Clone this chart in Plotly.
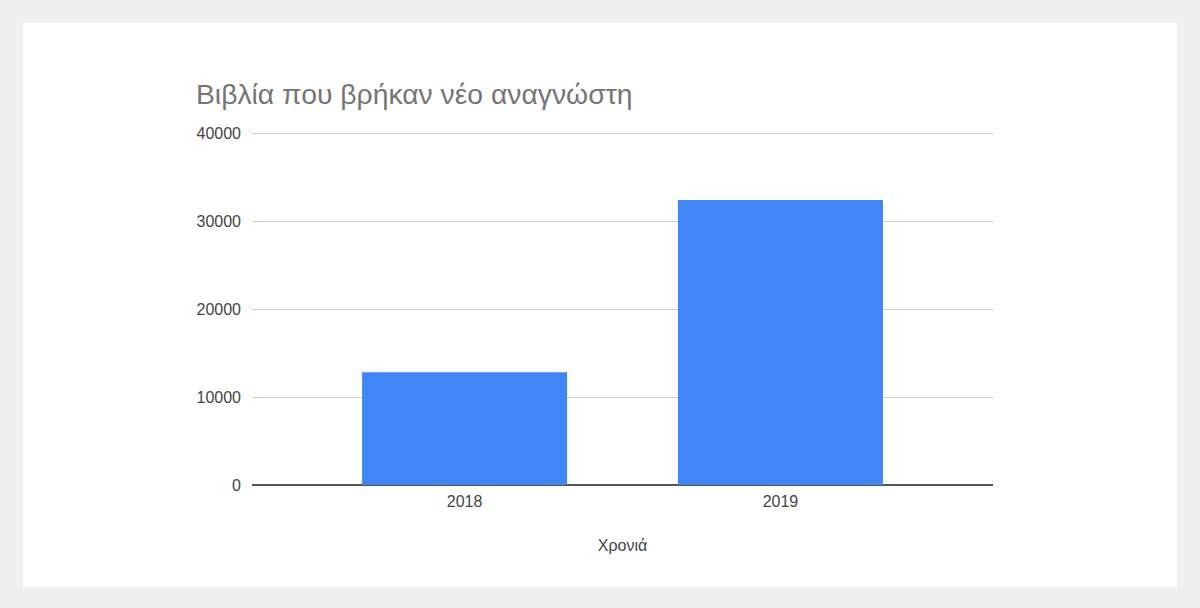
import plotly.graph_objects as go

# Data
years = ["2018", "2019"]
books = [12800, 32400]

title_text = "Βιβλία που βρήκαν νέο αναγνώστη"
x_title = "Χρονιά"
y_ticks = [0, 10000, 20000, 30000, 40000]

# plot area in pixels (1200x608 page); a few spare px on top so the 40000 grid line shows
L, R, T, B = 252, 207, 130, 123
W, H = 1200 - L - R, 608 - T - B

fig = go.Figure()
fig.add_trace(go.Bar(
    x=years,
    y=books,
    marker=dict(color="#4285F4", line=dict(width=0)),
    width=0.649,
))

fig.update_layout(
    width=1200,
    height=608,
    margin=dict(l=L, r=R, t=T, b=B, pad=0),
    paper_bgcolor="#f0f0f0",
    plot_bgcolor="white",
    showlegend=False,
    font=dict(family="Liberation Sans, Arial, sans-serif", size=16, color="#444444"),
    title=dict(
        text=title_text,
        font=dict(size=28.3, color="#757575"),
        x=196 / 1200, xanchor="left",
        y=1 - 94 / 608, yanchor="middle",
    ),
    # white card behind the chart
    shapes=[dict(
        type="rect", xref="paper", yref="paper", layer="below",
        x0=(23 - L) / W, x1=(1177 - L) / W,
        y0=(T + H - 587) / H, y1=(T + H - 23) / H,
        fillcolor="white", line=dict(width=0),
    )],
)

fig.update_xaxes(
    type="category",
    range=[-0.673, 1.673],
    showgrid=False,
    showline=False,
    ticks="",
    ticklabelstandoff=5,
    tickfont=dict(size=16, color="#444444"),
    title=dict(text=x_title, font=dict(size=16, color="#444444"), standoff=30),
)
fig.update_yaxes(
    range=[0, 40000 * H / 352],
    tickvals=y_ticks,
    ticktext=[str(v) for v in y_ticks],
    showgrid=True,
    gridcolor="#cccccc",
    gridwidth=1,
    zeroline=True,
    zerolinecolor="#555555",
    zerolinewidth=1.5,
    showline=False,
    ticks="",
    ticklabelstandoff=10,
    tickfont=dict(size=16, color="#444444"),
)

# drop the default 8px body margin so the figure fills the window
fig.write_html(
    "out.html",
    config={"displayModeBar": False},
    post_script="document.body.style.margin='0';",
)
